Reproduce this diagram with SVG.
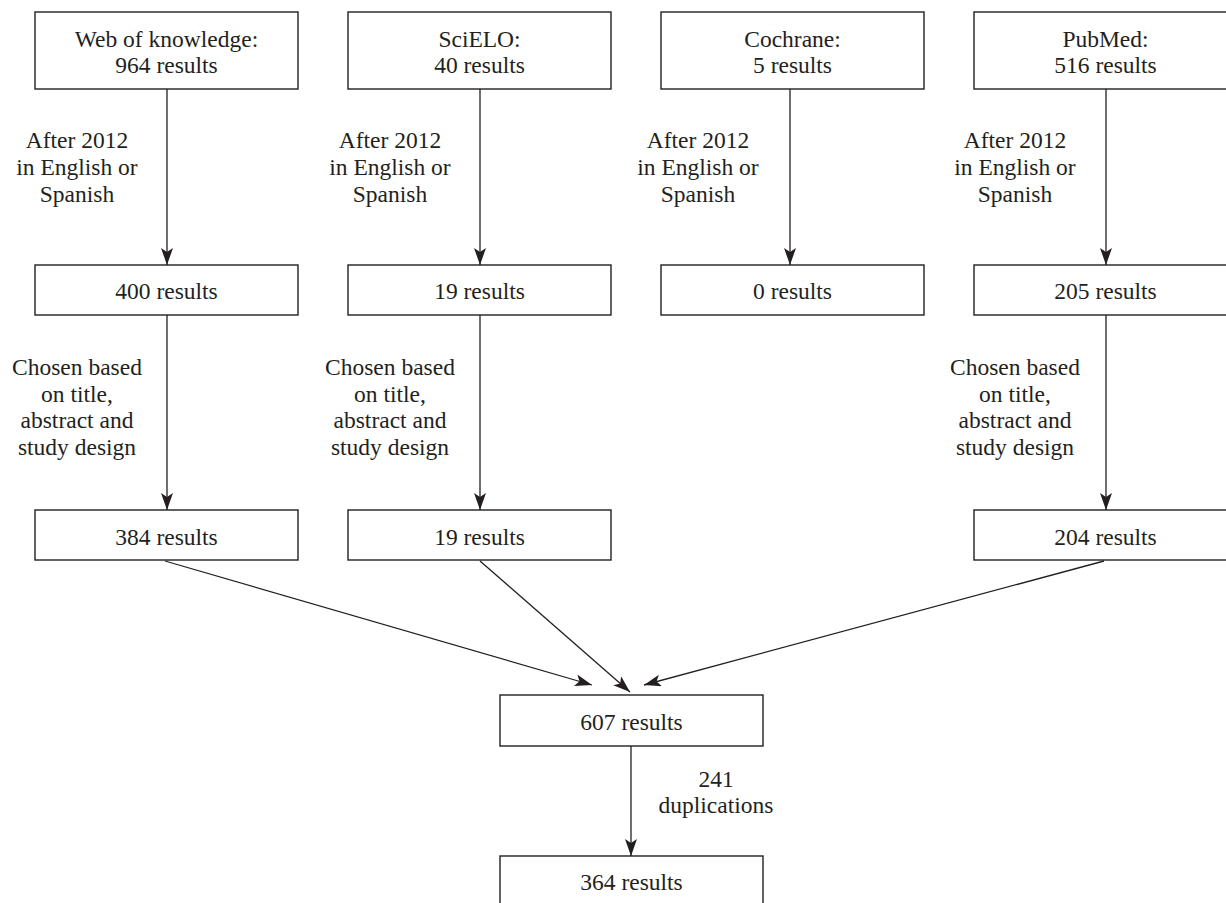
<svg xmlns="http://www.w3.org/2000/svg" width="1226" height="903" viewBox="0 0 1226 903">
<style>
.box{fill:#fff;stroke:#231f20;stroke-width:1.4}
.t{font-family:"Liberation Serif","Times New Roman",serif;font-size:23.5px;fill:#231f20;text-anchor:middle}
.c{stroke:#231f20;stroke-width:1.3;fill:none}
</style>
<defs>
<marker id="ah" markerUnits="userSpaceOnUse" markerWidth="18" markerHeight="12" viewBox="0 0 18 12" refX="17" refY="6" orient="auto">
<path d="M0,0 L17,6 L0,12 L4,6 Z" fill="#231f20"/>
</marker>
</defs>
<rect width="1226" height="903" fill="#fff"/>
<g id="connectors">
<line class="c" x1="167" y1="89" x2="167" y2="265" marker-end="url(#ah)"/>
<line class="c" x1="480" y1="89" x2="480" y2="265" marker-end="url(#ah)"/>
<line class="c" x1="790" y1="89" x2="790" y2="265" marker-end="url(#ah)"/>
<line class="c" x1="1106" y1="89" x2="1106" y2="265" marker-end="url(#ah)"/>
<line class="c" x1="167" y1="315" x2="167" y2="510" marker-end="url(#ah)"/>
<line class="c" x1="480" y1="315" x2="480" y2="510" marker-end="url(#ah)"/>
<line class="c" x1="1106" y1="315" x2="1106" y2="510" marker-end="url(#ah)"/>
<line class="c" x1="165" y1="561" x2="592" y2="685" marker-end="url(#ah)"/>
<line class="c" x1="480" y1="561" x2="630" y2="692" marker-end="url(#ah)"/>
<line class="c" x1="1104" y1="561" x2="644" y2="685" marker-end="url(#ah)"/>
<line class="c" x1="631" y1="746" x2="631" y2="856" marker-end="url(#ah)"/>
<text class="t" x="77" y="148">After 2012</text>
<text class="t" x="77" y="175">in English or</text>
<text class="t" x="77" y="202">Spanish</text>
<text class="t" x="390" y="148">After 2012</text>
<text class="t" x="390" y="175">in English or</text>
<text class="t" x="390" y="202">Spanish</text>
<text class="t" x="698" y="148">After 2012</text>
<text class="t" x="698" y="175">in English or</text>
<text class="t" x="698" y="202">Spanish</text>
<text class="t" x="1015" y="148">After 2012</text>
<text class="t" x="1015" y="175">in English or</text>
<text class="t" x="1015" y="202">Spanish</text>
<text class="t" x="77" y="375">Chosen based</text>
<text class="t" x="77" y="402">on title,</text>
<text class="t" x="77" y="428">abstract and</text>
<text class="t" x="77" y="455">study design</text>
<text class="t" x="390" y="375">Chosen based</text>
<text class="t" x="390" y="402">on title,</text>
<text class="t" x="390" y="428">abstract and</text>
<text class="t" x="390" y="455">study design</text>
<text class="t" x="1015" y="375">Chosen based</text>
<text class="t" x="1015" y="402">on title,</text>
<text class="t" x="1015" y="428">abstract and</text>
<text class="t" x="1015" y="455">study design</text>
<text class="t" x="716" y="787">241</text>
<text class="t" x="716" y="813">duplications</text>
</g>
<g id="n-wok"><rect class="box" x="35" y="12" width="263" height="77"/><text class="t" x="166.5" y="47">Web of knowledge:</text><text class="t" x="166.5" y="73">964 results</text></g>
<g id="n-scielo"><rect class="box" x="348" y="12" width="263" height="77"/><text class="t" x="479.5" y="47">SciELO:</text><text class="t" x="479.5" y="73">40 results</text></g>
<g id="n-cochrane"><rect class="box" x="661" y="12" width="263" height="77"/><text class="t" x="792.5" y="47">Cochrane:</text><text class="t" x="792.5" y="73">5 results</text></g>
<g id="n-pubmed"><rect class="box" x="974" y="12" width="263" height="77"/><text class="t" x="1105.5" y="47">PubMed:</text><text class="t" x="1105.5" y="73">516 results</text></g>
<g id="n-400"><rect class="box" x="35" y="265" width="263" height="50"/><text class="t" x="166.5" y="299">400 results</text></g>
<g id="n-19a"><rect class="box" x="348" y="265" width="263" height="50"/><text class="t" x="479.5" y="299">19 results</text></g>
<g id="n-0"><rect class="box" x="661" y="265" width="263" height="50"/><text class="t" x="792.5" y="299">0 results</text></g>
<g id="n-205"><rect class="box" x="974" y="265" width="263" height="50"/><text class="t" x="1105.5" y="299">205 results</text></g>
<g id="n-384"><rect class="box" x="35" y="510" width="263" height="50"/><text class="t" x="166.5" y="545">384 results</text></g>
<g id="n-19b"><rect class="box" x="348" y="510" width="263" height="50"/><text class="t" x="479.5" y="545">19 results</text></g>
<g id="n-204"><rect class="box" x="974" y="510" width="263" height="50"/><text class="t" x="1105.5" y="545">204 results</text></g>
<g id="n-607"><rect class="box" x="500" y="695" width="263" height="51"/><text class="t" x="631.5" y="730">607 results</text></g>
<g id="n-364"><rect class="box" x="500" y="856" width="263" height="51"/><text class="t" x="631.5" y="890">364 results</text></g>
</svg>
